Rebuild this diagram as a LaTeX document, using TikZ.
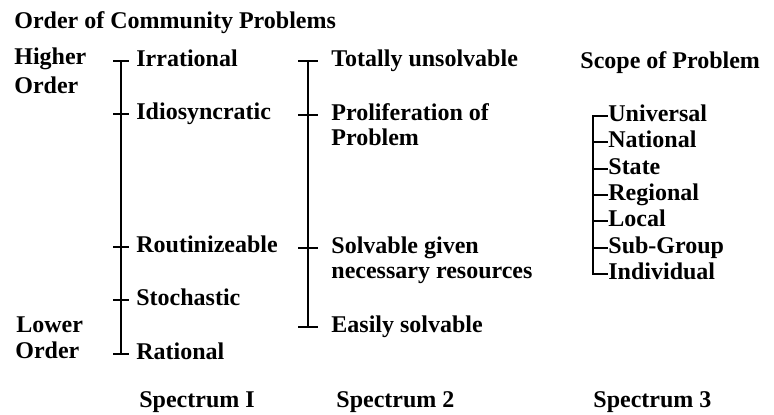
\documentclass[tikz,border=0pt]{standalone}
\usepackage{fontspec}
\setmainfont{Liberation Serif}
\begin{document}
\begin{tikzpicture}[x=0.5pt,y=-0.5pt]
\tikzset{label style/.style={anchor=base west,inner sep=0pt,font=\fontsize{12}{14}\bfseries},
         line style/.style={line width=1.4pt}}
\useasboundingbox (0,0) rectangle (774,415);

% headings
\node[label style] at (14,29)   (title)  {Order of Community Problems};
\node[label style] at (14,65)   (hi1)    {Higher};
\node[label style] at (14,94)   (hi2)    {Order};
\node[label style] at (16,333)  (lo1)    {Lower};
\node[label style] at (15,359)  (lo2)    {Order};
\node[label style] at (580,69)  (scope)  {Scope of Problem};

% spectrum 1
\coordinate (a1) at (121,61);
\coordinate (a2) at (121,114);
\coordinate (a3) at (121,247);
\coordinate (a4) at (121,300);
\coordinate (a5) at (121,354);
\node[label style] at (136,67)   (irr)    {Irrational};
\node[label style] at (136,120)  (idio)   {Idiosyncratic};
\node[label style] at (136,253)  (rout)   {Routinizeable};
\node[label style] at (136,306)  (stoch)  {Stochastic};
\node[label style] at (136,360)  (rat)    {Rational};

% spectrum 2
\coordinate (b1) at (308,61);
\coordinate (b2) at (308,115);
\coordinate (b3) at (308,248);
\coordinate (b4) at (308,327);
\node[label style] at (331,67)   (tot)    {Totally unsolvable};
\node[label style] at (331,121)  (prol1)  {Proliferation of};
\node[label style] at (331,146)  (prol2)  {Problem};
\node[label style] at (331,254)  (solv1)  {Solvable given};
\node[label style] at (331,279)  (solv2)  {necessary resources};
\node[label style] at (331,333)  (easy)   {Easily solvable};

% spectrum 3
\coordinate (c1) at (593,116);
\coordinate (c2) at (593,142);
\coordinate (c3) at (593,169);
\coordinate (c4) at (593,195);
\coordinate (c5) at (593,221);
\coordinate (c6) at (593,248);
\coordinate (c7) at (593,274);
\node[label style] at (608,122)  (univ)   {Universal};
\node[label style] at (608,148)  (nat)    {National};
\node[label style] at (608,175)  (state)  {State};
\node[label style] at (608,201)  (reg)    {Regional};
\node[label style] at (608,227)  (loc)    {Local};
\node[label style] at (608,254)  (sub)    {Sub-Group};
\node[label style] at (608,280)  (ind)    {Individual};

% spectrum names
\node[label style] at (139,408)  (sp1)    {Spectrum I};
\node[label style] at (336,408)  (sp2)    {Spectrum 2};
\node[label style] at (593,408)  (sp3)    {Spectrum 3};

\draw[line style] (a1) -- (a5);
\foreach \t in {a1,a2,a3,a4,a5}
    \draw[line style] (\t) ++(-8,0) -- ++(16,0);

\draw[line style] (b1) -- (b4);
\foreach \t in {b1,b2,b3,b4}
    \draw[line style] (\t) ++(-10,0) -- ++(20,0);

\draw[line style, line join=miter]
            (c1 -| univ.west) -- (c1) -- (c7) -- (c7 -| ind.west);
\foreach \t/\l in {c2/nat,c3/state,c4/reg,c5/loc,c6/sub}
    \draw[line style] (\t) -- (\t -| \l.west);
\end{tikzpicture}
\end{document}
